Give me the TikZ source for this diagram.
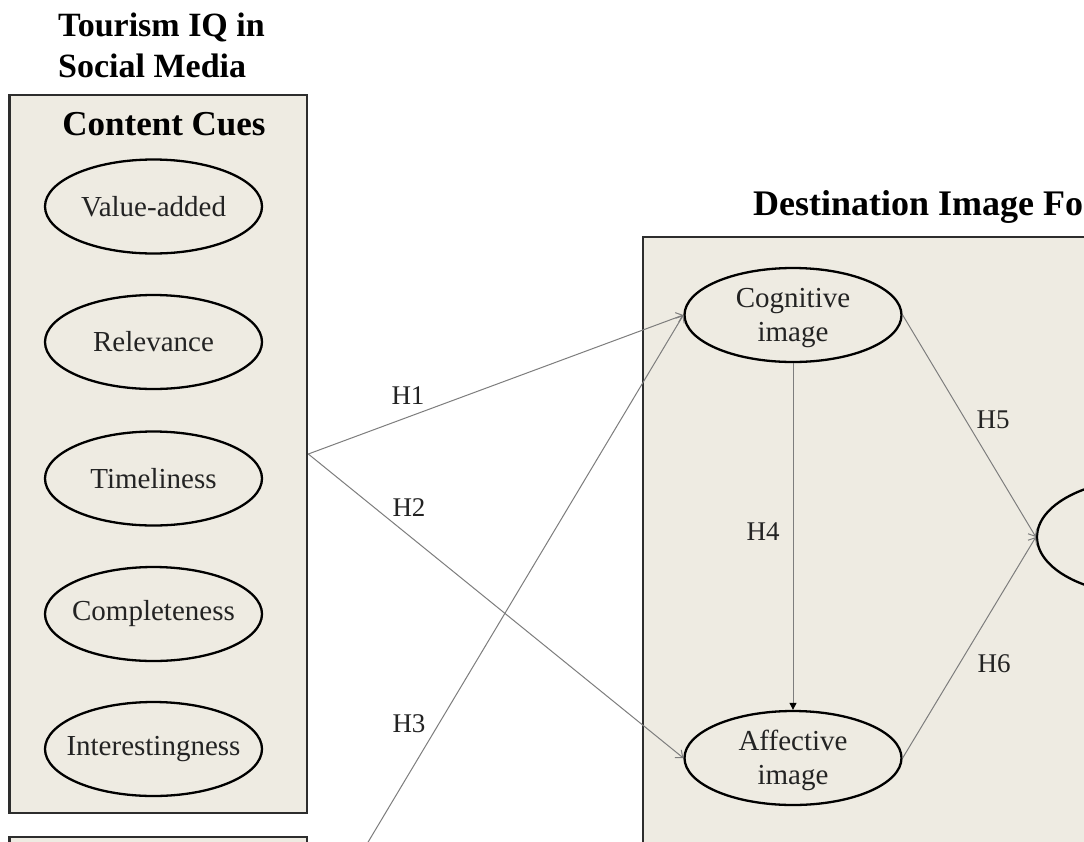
\documentclass[tikz,border=0pt]{standalone}
\usepackage{fontspec}
\setmainfont{Liberation Serif}
\usetikzlibrary{shapes.geometric,arrows.meta}
\definecolor{beige}{RGB}{238,235,226}
\definecolor{boxline}{RGB}{45,45,45}
\definecolor{arrowgray}{RGB}{125,125,125}
\definecolor{txt}{RGB}{35,35,35}
\newcommand\myBody{\fontsize{29}{34}\selectfont}
\newcommand\myHlab{\fontsize{27}{30}\selectfont}
\begin{document}
\begin{tikzpicture}[x=1pt,y=-1pt,
  panel/.style={rectangle, draw=boxline, line width=2.6pt, fill=beige, inner sep=0pt},
  oval/.style={ellipse, draw=black, line width=2.3pt, fill=beige,
    minimum width=217pt, minimum height=94pt, inner xsep=-40pt, inner ysep=0pt, font=\myBody, text=txt},
  twoline/.style={font=\myBody, text=txt, align=center, inner sep=0pt},
  conn/.style={draw=arrowgray, line width=1pt, -{Straight Barb[length=6pt,width=10pt]}},
  connfill/.style={draw=arrowgray, line width=1pt, -{Triangle[length=7pt,width=7pt,fill=black,color=black]}},
  hlab/.style={font=\myHlab, text=txt, inner sep=0pt},
  title/.style={font=\bfseries, text=black, inner sep=0pt}
]
\useasboundingbox (0,0) rectangle (1084,841);
\clip (0,0) rectangle (1084,841);
\fill[white] (0,0) rectangle (1084,841);

% panels
\node[panel, minimum width=297.5pt, minimum height=718pt] (cc) at (158.25,454) {};
\node[panel, minimum width=297.5pt, minimum height=210pt] (box2) at (158.25,942) {};
\node[panel, minimum width=560pt, minimum height=770pt] (dif) at (923,622) {};

% titles
\node[title, anchor=north west, align=left, font=\bfseries\fontsize{34}{41}\selectfont] (t1) at (58,13) {Tourism IQ in\\Social Media};
\node[title, anchor=base, font=\bfseries\fontsize{35}{40}\selectfont] (t2) at (164,135) {Content Cues};
\node[title, anchor=base west, font=\bfseries\fontsize{36}{40}\selectfont] (t3) at (753,215) {Destination Image Fo};

% content cue ellipses
\node[oval] (va)  at (153.5,206.5) {Value-added};
\node[oval] (rel) at (153.5,342)   {Relevance};
\node[oval] (tim) at (153.5,478.5) {Timeliness};
\node[oval] (com) at (153.5,614)   {Completeness};
\node[oval] (int) at (153.5,749)   {Interestingness};

% destination image ellipses
\node[oval] (cog) at (793,315) {};
\node[twoline] (cogt) at (793,318) {Cognitive\\image};
\node[oval] (aff) at (793,758) {};
\node[twoline] (afft) at (793,760) {Affective\\image};
\node[oval, minimum width=220pt, minimum height=116pt] (dv) at (1147,537) {};

% connectors
\draw[conn] (cc.east) -- (cog.west);
\draw[conn] (cc.east) -- (aff.west);
\draw[conn] (box2.east) -- (cog.west);
\draw[connfill] (cog.south) -- (aff.north);
\draw[conn] (cog.east) -- (dv.west);
\draw[conn] (aff.east) -- (dv.west);

% hypothesis labels
\node[hlab] (h1) at (408,396) {H1};
\node[hlab] (h2) at (409,508) {H2};
\node[hlab] (h3) at (409,724) {H3};
\node[hlab] (h4) at (763,532) {H4};
\node[hlab] (h5) at (993,420) {H5};
\node[hlab] (h6) at (994,664) {H6};
\end{tikzpicture}
\end{document}
